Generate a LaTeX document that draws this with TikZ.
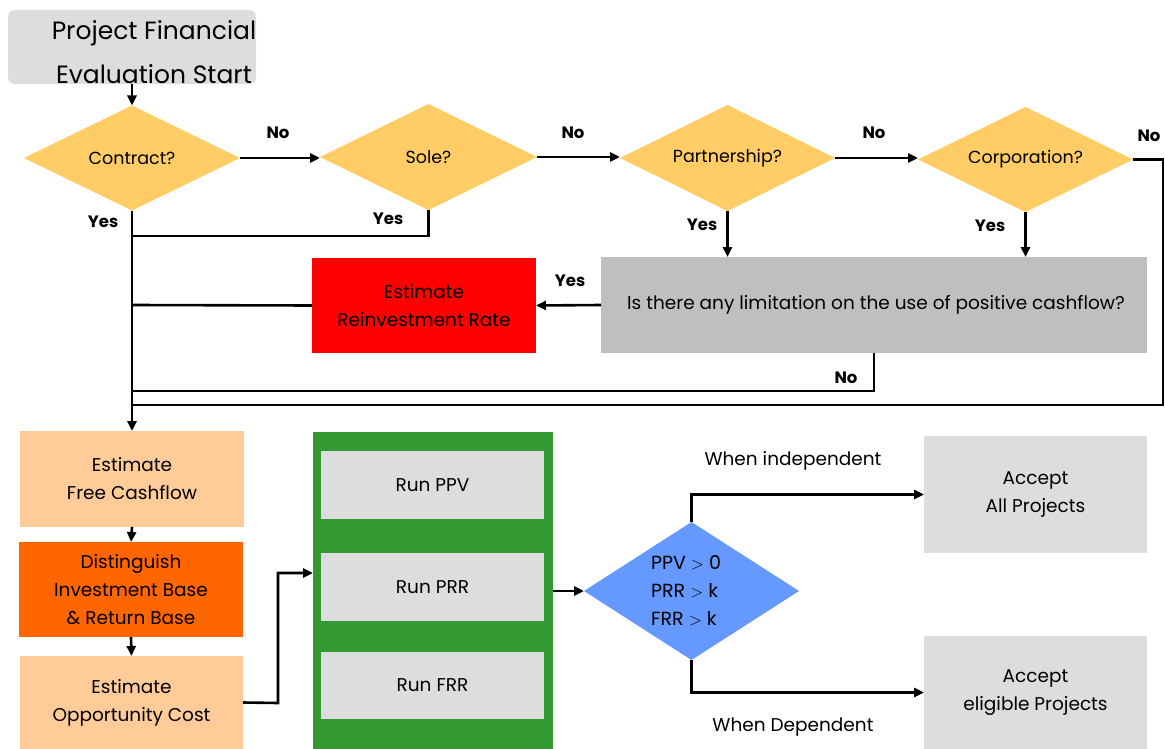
\documentclass[tikz,border=0pt]{standalone}
\usepackage{fontspec}
\setmainfont{Poppins}
\usetikzlibrary{arrows.meta,shapes.geometric}
\definecolor{dyel}{HTML}{FFCC66}
\definecolor{gray1}{HTML}{DDDDDD}
\definecolor{gray2}{HTML}{BFBFBF}
\definecolor{peach}{HTML}{FFCC99}
\definecolor{orng}{HTML}{FF6600}
\definecolor{grn}{HTML}{339933}
\definecolor{blu}{HTML}{6699FF}
\definecolor{rd}{HTML}{FF0000}
\tikzset{
  every node/.style={font=\fontsize{18.5}{28}\selectfont},
  dia/.style={diamond, shape aspect=2, fill=dyel, draw=none, inner sep=0pt, outer sep=0pt, font=\fontsize{17.5}{28}\selectfont},
  box/.style={rectangle, draw=none, inner sep=0pt, outer sep=0pt, align=center},
  conn/.style={line width=2.6pt, -{Triangle[length=10pt,width=9pt]}},
  line/.style={line width=2.6pt},
  lab/.style={font=\fontsize{16.5}{20}\selectfont\bfseries},
  wlab/.style={font=\fontsize{18.5}{22}\selectfont},
}
\begin{document}
\begin{tikzpicture}[x=1pt,y=-1pt]
\useasboundingbox (0,0) rectangle (1165,749);
% start
\node[box, fill=gray1, rounded corners=7pt, minimum width=248pt, minimum height=74pt] (start) at (132,47) {};
\node[box, font=\fontsize{25}{44}\selectfont] (starttxt) at (154,52) {Project Financial\\Evaluation Start};
% diamonds
\node[dia, minimum width=216pt, minimum height=105pt] (contract) at (132,158) {Contract?};
\node[dia, minimum width=217pt, minimum height=106pt] (sole) at (428.5,157) {Sole?};
\node[dia, minimum width=215pt, minimum height=106pt] (partner) at (727.5,158) {Partnership?};
\node[dia, minimum width=215pt, minimum height=105pt] (corp) at (1025.5,159.5) {Corporation?};
% question box
\node[box, fill=gray2, minimum width=546pt, minimum height=96pt] (q) at (874,305) {\hspace*{4pt}Is there any limitation on the use of positive cashflow?};
\node[box, fill=rd, minimum width=224pt, minimum height=95pt] (red) at (424,305.5) {Estimate\\Reinvestment Rate};
% left column
\node[box, fill=peach, minimum width=224pt, minimum height=96pt] (efc) at (132,479) {Estimate\\Free Cashflow};
\node[box, fill=orng, minimum width=224pt, minimum height=95pt] (dist) at (131,589.5) {Distinguish\\Investment Base\\\& Return Base};
\node[box, fill=peach, minimum width=223pt, minimum height=93pt] (eoc) at (131.5,702.5) {Estimate\\Opportunity Cost};
% green group
\node[box, fill=grn, minimum width=240pt, minimum height=317pt] (green) at (433,590.5) {};
\node[box, fill=gray1, minimum width=223pt, minimum height=68pt] (ppv) at (432.5,485) {Run PPV};
\node[box, fill=gray1, minimum width=223pt, minimum height=68pt] (prr) at (432.5,587) {Run PRR};
\node[box, fill=gray1, minimum width=223pt, minimum height=67pt] (frr) at (432.5,685.5) {Run FRR};
% blue diamond
\node[diamond, fill=blu, inner sep=0pt, outer sep=0pt, minimum width=215pt, minimum height=138pt] (blue) at (691.5,591) {};
\node[box, align=left, anchor=west, font=\fontsize{19}{28}\selectfont] (bluetxt) at (651,591) {PPV $>$ 0\\PRR $>$ k\\FRR $>$ k};
% accept boxes
\node[box, fill=gray1, minimum width=223pt, minimum height=117pt] (acc) at (1035.5,494.5) {Accept\\All Projects};
\node[box, fill=gray1, minimum width=223pt, minimum height=113pt] (elig) at (1035.5,692.5) {Accept\\eligible Projects};
% junction coordinates
\coordinate (j1) at (132,236);
\coordinate (j2) at (132,305);
\coordinate (j3) at (132,391);
\coordinate (j4) at (132,405);
\coordinate (cR) at (1163,405);
\coordinate (k1) at (278,703);
\coordinate (k2) at (278,573);
% connectors
\draw[conn] (start.south) -- (contract.north);
\draw[conn] (contract.east) -- (contract.east -| sole.west);
\draw[conn] (sole.east) -- (sole.east -| partner.west);
\draw[conn] (partner.east) -- (partner.east -| corp.west);
\draw[line] (corp.east) -| (cR) -- (j4);
\draw[conn] (contract.south) -- (efc.north);
\draw[line] (sole.south) |- (j1);
\draw[conn] (partner.south) -- (partner.south |- q.north);
\draw[conn] (corp.south) -- (corp.south |- q.north);
\draw[conn] (q.west) -- (red.east);
\draw[line] (red.west) -- (j2);
\draw[line] (q.south) |- (j3);
\draw[conn] (efc.south) -- (dist.north);
\draw[conn] (dist.south) -- (eoc.north);
\draw[conn] (eoc.east) -- (k1) -- (k2) -- (k2 -| green.west);
\draw[conn] (green.east |- blue.west) -- (blue.west);
\draw[conn] (blue.north) |- (acc.west);
\draw[conn] (blue.south) |- (elig.west);
% labels
\node[lab] (n1) at (278,133) {No};
\node[lab] (n2) at (573,133) {No};
\node[lab] (n3) at (874,133) {No};
\node[lab, anchor=east] (n4) at (1164,136) {No};
\node[lab] (y1) at (103,222) {Yes};
\node[lab] (y2) at (388,219) {Yes};
\node[lab] (y3) at (702,225) {Yes};
\node[lab] (y4) at (990,226) {Yes};
\node[lab] (y5) at (570,281) {Yes};
\node[lab] (n5) at (846,378) {No};
\node[wlab] (wi) at (793,461) {When independent};
\node[wlab] (wd) at (793,727) {When Dependent};
\end{tikzpicture}
\end{document}
